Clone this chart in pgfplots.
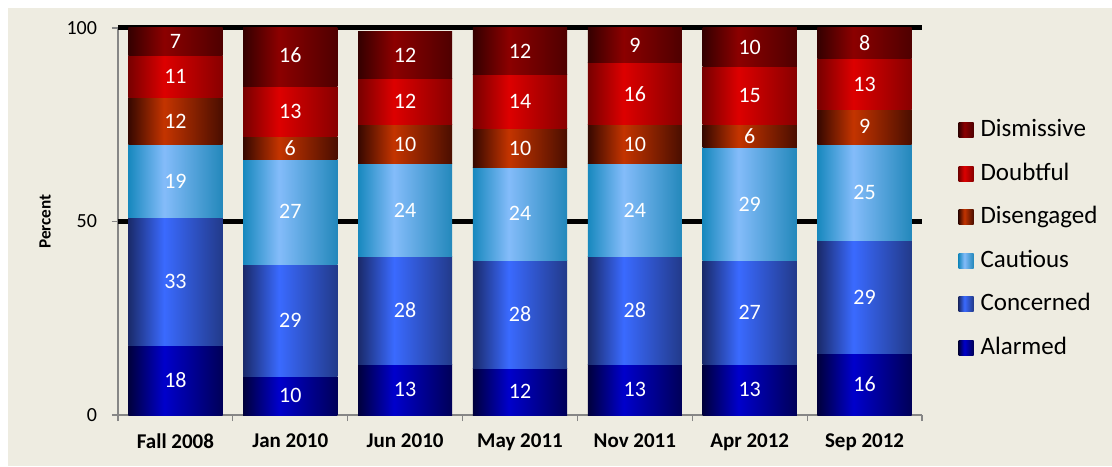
\documentclass[border=0pt]{standalone}
\usepackage{pgfplots}
\pgfplotsset{compat=1.18}
\usepackage{pgfplotstable}
\usepackage{fontspec}
\setmainfont{Carlito}

\definecolor{bgtan}{HTML}{EEECE1}
\definecolor{axgray}{HTML}{868686}
% gradient stops: left edge, bright band, right edge
\definecolor{alL}{HTML}{00003C}\definecolor{alM}{HTML}{0000CC}\definecolor{alR}{HTML}{000058}
\definecolor{coL}{HTML}{1A2A6A}\definecolor{coM}{HTML}{3A6AFF}\definecolor{coR}{HTML}{223A8A}
\definecolor{caL}{HTML}{1788BE}\definecolor{caM}{HTML}{84BCFA}\definecolor{caR}{HTML}{2388BB}
\definecolor{dgL}{HTML}{360800}\definecolor{dgM}{HTML}{C43400}\definecolor{dgR}{HTML}{4A0E00}
\definecolor{dbL}{HTML}{780000}\definecolor{dbM}{HTML}{DD0000}\definecolor{dbR}{HTML}{880000}
\definecolor{dmL}{HTML}{340000}\definecolor{dmM}{HTML}{8C0000}\definecolor{dmR}{HTML}{4E0000}

\newcommand\barshading[2]{%
  \pgfdeclarehorizontalshading{#1}{100bp}{color(0bp)=(#2L); color(25bp)=(#2L);
    color(44bp)=(#2M); color(75bp)=(#2R); color(100bp)=(#2R)}}
\barshading{shal}{al}\barshading{shco}{co}\barshading{shca}{ca}
\barshading{shdg}{dg}\barshading{shdb}{db}\barshading{shdm}{dm}

% percent of respondents per segment
\pgfplotstableread{
x al co ca dg db dm
0 18 33 19 12 11 7
1 10 29 27 6 13 16
2 13 28 24 10 12 12
3 12 28 24 10 14 12
4 13 28 24 10 16 9
5 13 27 29 6 15 10
6 16 29 25 9 13 8
}\survey

\pgfplotsset{
  sh-al/.style={draw=none, shade, shading=shal},
  sh-co/.style={draw=none, shade, shading=shco},
  sh-ca/.style={draw=none, shade, shading=shca},
  sh-dg/.style={draw=none, shade, shading=shdg},
  sh-db/.style={draw=none, shade, shading=shdb},
  sh-dm/.style={draw=none, shade, shading=shdm},
  lbl/.style={only marks, mark=none, point meta=explicit, forget plot},
}

\begin{document}
\begin{tikzpicture}
\fill[white] (-59pt,-25.5pt) rectangle (497pt,207.5pt);
\fill[bgtan] (-55pt,-25.5pt) rectangle (497pt,203.5pt);
\begin{axis}[
  scale only axis, width=402pt, height=193.5pt,
  xmin=-0.5, xmax=6.5, ymin=0, ymax=100,
  /pgf/number format/assume math mode=true,
  axis x line*=bottom, axis y line*=left,
  axis line style={axgray, line width=0.6pt},
  xtick={0,...,6},
  xticklabels={Fall 2008,Jan 2010,Jun 2010,May 2011,Nov 2011,Apr 2012,Sep 2012},
  xticklabel style={font=\bfseries\fontsize{10.5}{12}\selectfont, yshift=-3pt},
  major x tick style={draw=none},
  extra x ticks={-0.5,0.5,1.5,2.5,3.5,4.5,5.5,6.5},
  extra x tick labels={},
  extra x tick style={grid=none, major x tick style={draw=axgray, line width=0.6pt}},
  ytick={0,50,100},
  yticklabel style={font=\fontsize{10}{12}\selectfont, xshift=-4pt},
  y tick style={axgray, line width=0.6pt},
  extra y ticks={50,100}, extra y tick labels={},
  extra y tick style={grid=major, major grid style={black, line width=2.5pt}},
  major tick length=3pt, tick align=outside,
  ylabel={Percent},
  every axis y label/.style={at={(axis description cs:-0.0908,0.5)}, rotate=90,
    anchor=center, font=\bfseries\fontsize{8.6}{10}\selectfont},
  legend image code/.code={\path[#1] (0pt,-3.75pt) rectangle (7.5pt,3.75pt);},
  legend style={at={(1.045,0.455)}, anchor=west, draw=none, fill=none,
    inner sep=0pt, row sep=8.3pt, column sep=2.5pt,
    font=\fontsize{12.5}{15}\selectfont,
    nodes={inner sep=1pt, text height=9pt, text depth=2.5pt}},
  legend cell align=left,
  nodes near coords, nodes near coords align={center},
  every node near coord/.style={text=white, font=\fontsize{11}{13}\selectfont, inner sep=0pt},
]
% one shaded rectangle per segment, stacked from the table values
\pgfplotsforeachungrouped \rowi in {0,...,6}{%
  \def\ybase{0}%
  \pgfplotsforeachungrouped \coli in {al,co,ca,dg,db,dm}{%
    \pgfplotstablegetelem{\rowi}{\coli}\of\survey
    \pgfmathsetmacro\ytop{\ybase+\pgfplotsretval}%
    \pgfmathsetmacro\xl{\rowi-0.41}%
    \pgfmathsetmacro\xr{\rowi+0.41}%
    \edef\segcmd{\noexpand\addplot[sh-\coli, forget plot, nodes near coords=] coordinates
      {(\xl,\ybase) (\xr,\ybase) (\xr,\ytop) (\xl,\ytop)} -- cycle;}%
    \segcmd
    \let\ybase\ytop
  }%
}
% value labels, centred in each segment
\addplot[lbl] table[x=x, y expr=\thisrow{al}/2, meta=al]{\survey};
\addplot[lbl] table[x=x, y expr=\thisrow{al}+\thisrow{co}/2, meta=co]{\survey};
\addplot[lbl] table[x=x, y expr=\thisrow{al}+\thisrow{co}+\thisrow{ca}/2, meta=ca]{\survey};
\addplot[lbl] table[x=x, y expr=\thisrow{al}+\thisrow{co}+\thisrow{ca}+\thisrow{dg}/2, meta=dg]{\survey};
\addplot[lbl] table[x=x, y expr=\thisrow{al}+\thisrow{co}+\thisrow{ca}+\thisrow{dg}+\thisrow{db}/2, meta=db]{\survey};
\addplot[lbl] table[x=x, y expr=\thisrow{al}+\thisrow{co}+\thisrow{ca}+\thisrow{dg}+\thisrow{db}+\thisrow{dm}/2, meta=dm]{\survey};
\addlegendimage{sh-dm}\addlegendentry{Dismissive}
\addlegendimage{sh-db}\addlegendentry{Doubtful}
\addlegendimage{sh-dg}\addlegendentry{Disengaged}
\addlegendimage{sh-ca}\addlegendentry{Cautious}
\addlegendimage{sh-co}\addlegendentry{Concerned}
\addlegendimage{sh-al}\addlegendentry{Alarmed}
\end{axis}
\pgfresetboundingbox
\path (-59pt,-25.5pt) rectangle (497pt,207.5pt);
\end{tikzpicture}
\end{document}
